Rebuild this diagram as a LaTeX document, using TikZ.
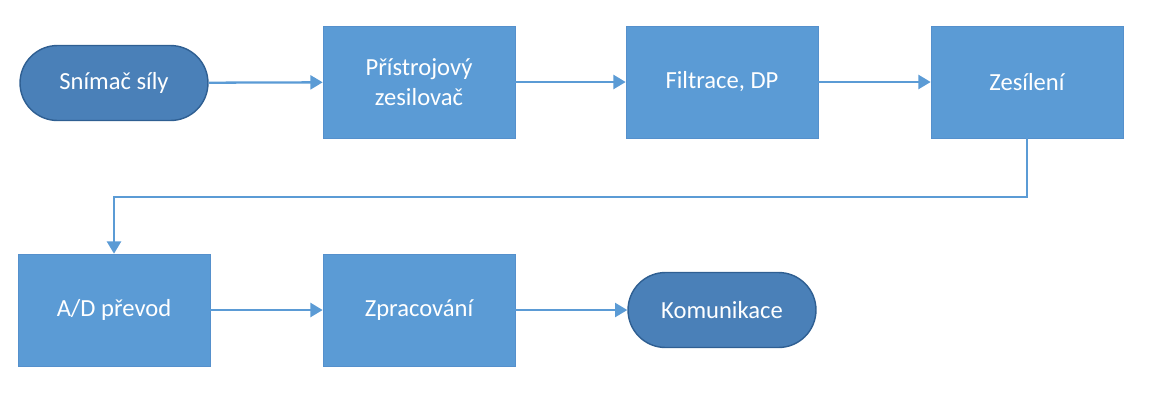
\documentclass[tikz,border=0pt]{standalone}
\usepackage{fontspec}
\setmainfont{Carlito}
\usetikzlibrary{arrows.meta}
\definecolor{boxblue}{HTML}{5B9BD5}
\definecolor{boxedge}{HTML}{5590CC}
\definecolor{termblue}{HTML}{4A80B8}
\definecolor{termedge}{HTML}{2F5F92}
\begin{document}
\begin{tikzpicture}[x=0.02cm,y=-0.02cm,
  block/.style={rectangle,draw=boxedge,fill=boxblue,text=white,minimum width=3.84cm,minimum height=2.24cm,align=center,font=\fontsize{14}{17}\selectfont,inner sep=0pt},
  term/.style={rectangle,rounded corners=0.75cm,draw=termedge,thick,fill=termblue,text=white,minimum width=3.76cm,minimum height=1.5cm,font=\fontsize{14}{17}\selectfont,inner sep=0pt},
  flow/.style={draw=boxblue,line width=1.3pt,-{Triangle[length=7pt,width=8pt]}}]
\useasboundingbox (0,0) rectangle (1157,407);
\node [term] (snimac) at (114,83) {Snímač síly};
\node [block] (zesilovac) at (419,82) {Přístrojový\\zesilovač};
\node [block] (filtrace) at (722,82) {Filtrace, DP};
\node [block] (zesileni) at (1027,82) {Zesílení};
\node [block] (prevod) at (114,310) {A/D převod};
\node [block] (zpracovani) at (419,310) {Zpracování};
\node [term] (komunikace) at (722,310) {Komunikace};
\draw [flow] (snimac) -- (zesilovac);
\draw [flow] (zesilovac) -- (filtrace);
\draw [flow] (filtrace) -- (zesileni);
\draw [flow] (zesileni.south) |- (114,197) -- (prevod.north);
\draw [flow] (prevod) -- (zpracovani);
\draw [flow] (zpracovani) -- (komunikace);
\end{tikzpicture}
\end{document}
